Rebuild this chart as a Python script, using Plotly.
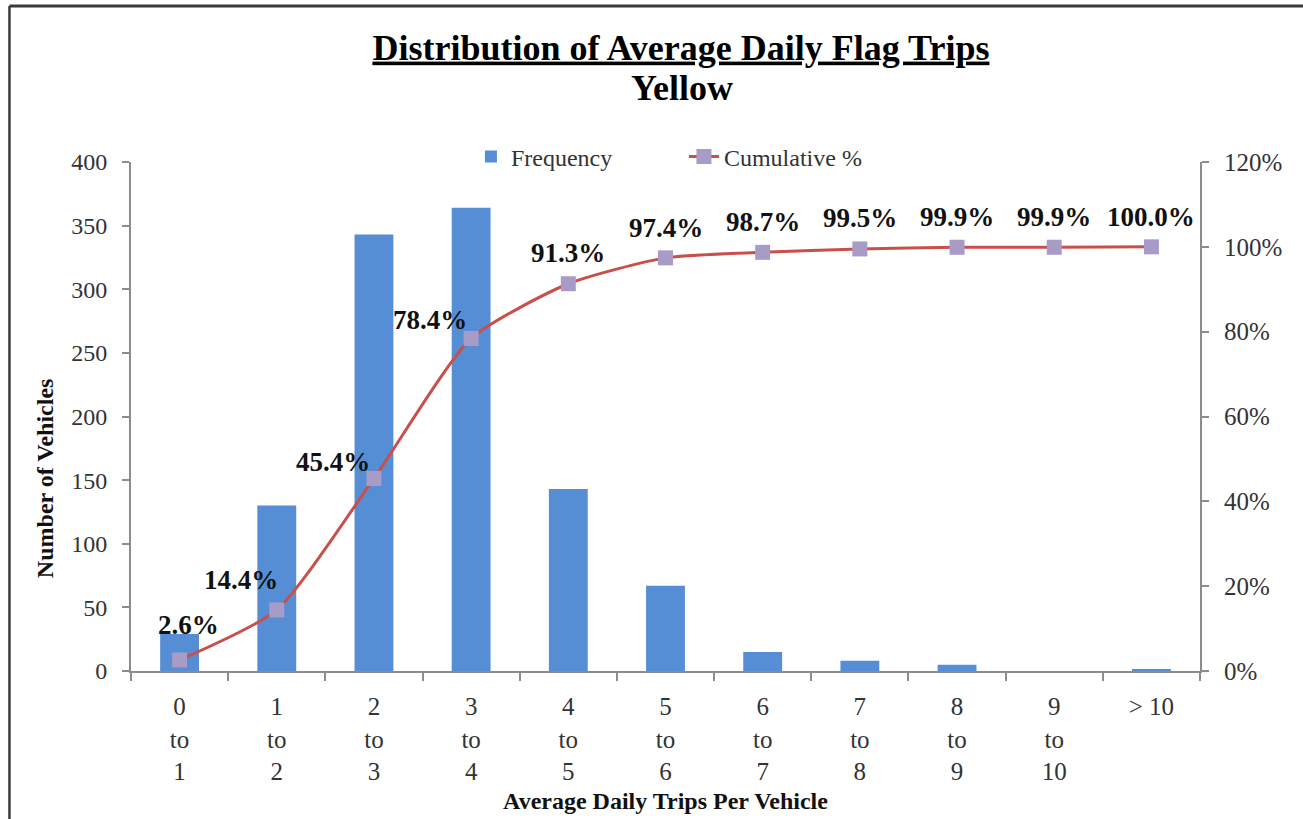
import plotly.graph_objects as go

# Trip-rate bins and their vehicle counts
categories = ["0-1", "1-2", "2-3", "3-4", "4-5", "5-6", "6-7", "7-8", "8-9", "9-10", ">10"]
tick_labels = ["0<br>to<br>1", "1<br>to<br>2", "2<br>to<br>3", "3<br>to<br>4", "4<br>to<br>5",
               "5<br>to<br>6", "6<br>to<br>7", "7<br>to<br>8", "8<br>to<br>9", "9<br>to<br>10", "> 10"]
frequency = [29, 130, 343, 364, 143, 67, 15, 8, 5, 0, 1]
cumulative_pct = [2.6, 14.4, 45.4, 78.4, 91.3, 97.4, 98.7, 99.5, 99.9, 99.9, 100.0]

# label placement relative to each marker (pixels)
label_dx = [9, -36, -41, -41, 0, 0, 0, 0, 0, 0, 0]
label_dy = [35, 30, 16, 18, 31, 30, 30, 31, 30, 30, 30]

SERIF = "Liberation Serif"
AXIS_GRAY = "#8c8c8c"

fig = go.Figure()

fig.add_trace(go.Bar(
    x=categories, y=frequency, name="Frequency",
    marker=dict(color="#558ED5", line=dict(width=0)),
    width=0.4, yaxis="y",
))

fig.add_trace(go.Scatter(
    x=categories, y=[v / 100 for v in cumulative_pct], name="Cumulative %",
    mode="lines+markers", yaxis="y2",
    line=dict(color="#C8504B", width=3, shape="spline", smoothing=0.6),
    marker=dict(symbol="square", size=15, color="#A99BC8", line=dict(width=0)),
))

annotations = []
for c, v, dx, dy in zip(categories, cumulative_pct, label_dx, label_dy):
    annotations.append(dict(
        x=c, y=v / 100, xref="x", yref="y2", text=f"<b>{v:.1f}%</b>",
        showarrow=False, xanchor="center", yanchor="middle",
        xshift=dx, yshift=dy,
        font=dict(family=SERIF, size=27, color="#111"),
    ))

annotations.append(dict(
    x=-0.0804, y=0.379, xref="paper", yref="paper",
    text="<b>Number of Vehicles</b>", textangle=-90, showarrow=False,
    xanchor="center", yanchor="middle",
    font=dict(family=SERIF, size=24, color="#111"),
))

# second title line
annotations.append(dict(
    x=0.5154, y=1.1454, xref="paper", yref="paper",
    text="<b>Yellow</b>", showarrow=False, xanchor="center", yanchor="middle",
    font=dict(family=SERIF, size=36, color="#000"),
))

# outer frame edges
shapes = [
    dict(type="line", xref="paper", yref="paper", x0=-0.1137, x1=1.1, y0=1.3065, y1=1.3065,
         line=dict(color="#3a3a3a", width=3)),
    dict(type="line", xref="paper", yref="paper", x0=-0.1137, x1=-0.1137, y0=-0.3, y1=1.3065,
         line=dict(color="#3a3a3a", width=2.5)),
]

fig.update_layout(
    width=1303, height=819,
    margin=dict(l=131, r=103, t=162, b=148, autoexpand=False),
    paper_bgcolor="white", plot_bgcolor="white",
    font=dict(family=SERIF, color="#222"),
    title=dict(
        text="<b><u>Distribution of Average Daily Flag Trips</u></b>",
        x=0.5226, xanchor="center", yref="container", y=1 - 47 / 819, yanchor="middle",
        font=dict(family=SERIF, size=36, color="#000"),
    ),
    legend=dict(
        orientation="h", x=0.318, xanchor="left", y=1.01, yanchor="middle",
        entrywidth=168, entrywidthmode="pixels",
        font=dict(family=SERIF, size=24, color="#333"), bgcolor="rgba(0,0,0,0)",
    ),
    bargap=0.6,
    xaxis=dict(
        type="category", tickmode="array", tickvals=categories, ticktext=tick_labels,
        range=[-0.5, 10.5], showline=True, linecolor=AXIS_GRAY, linewidth=2,
        ticks="outside", tickson="boundaries", ticklen=8, tickcolor=AXIS_GRAY, tickwidth=1.5,
        tickfont=dict(family=SERIF, size=25, color="#333"),
        showgrid=False, zeroline=False, ticklabelstandoff=12, automargin=False,
        title=dict(text="<b>Average Daily Trips Per Vehicle</b>", standoff=8,
                   font=dict(family=SERIF, size=24, color="#111")),
    ),
    yaxis=dict(
        range=[0, 400], dtick=50, showline=True, linecolor=AXIS_GRAY, linewidth=2,
        ticks="outside", ticklen=7, tickcolor=AXIS_GRAY, tickwidth=1.5,
        tickfont=dict(family=SERIF, size=24, color="#333"), automargin=False,
        showgrid=False, zeroline=False, ticklabelstandoff=10,
    ),
    yaxis2=dict(
        range=[0, 1.2], dtick=0.2, tickformat=".0%", overlaying="y", side="right",
        showline=True, linecolor=AXIS_GRAY, linewidth=2,
        ticks="outside", ticklen=7, tickcolor=AXIS_GRAY, tickwidth=1.5,
        tickfont=dict(family=SERIF, size=25, color="#333"), automargin=False,
        showgrid=False, zeroline=False, ticklabelstandoff=10,
    ),
    annotations=annotations,
    shapes=shapes,
)

fig.write_html("out.html")
